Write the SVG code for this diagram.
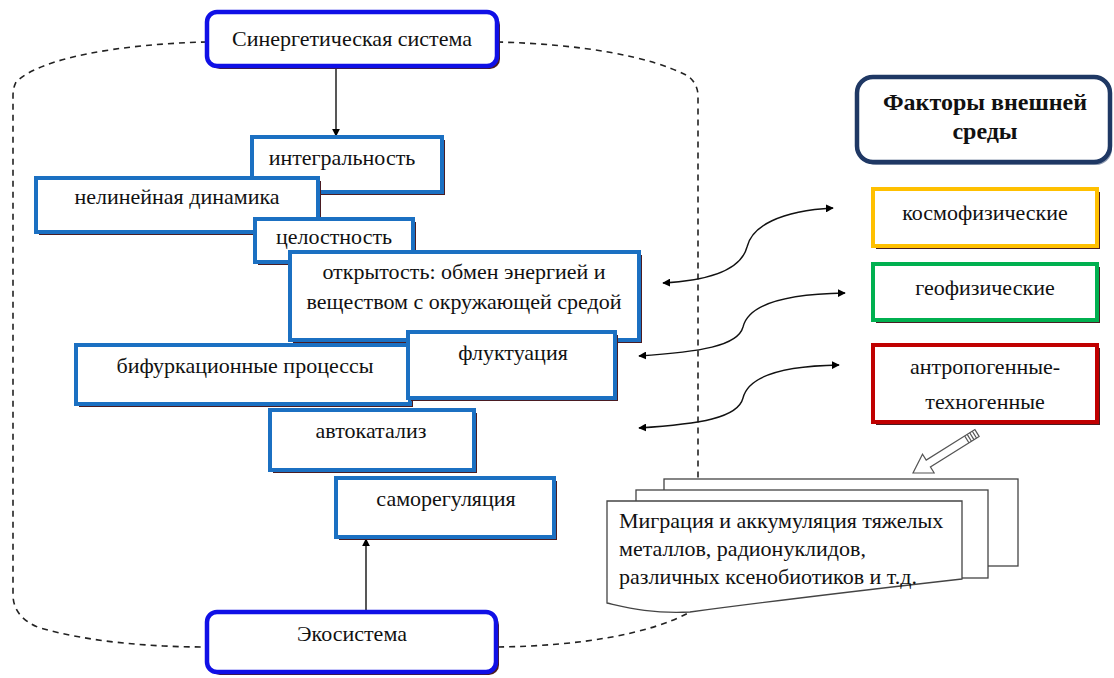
<svg xmlns="http://www.w3.org/2000/svg" width="1114" height="678" viewBox="0 0 1114 678" font-family="'Liberation Serif', 'DejaVu Serif', serif">
<defs>
<marker id="ah" viewBox="0 0 10 10" refX="9" refY="5" markerWidth="8" markerHeight="8" markerUnits="userSpaceOnUse" orient="auto-start-reverse">
<path d="M0,0 L10,5 L0,10 Z" fill="#000"/>
</marker>
<style>
text{font-family:'Liberation Serif','DejaVu Serif',serif;font-size:22px;fill:#111;}
.c{text-anchor:middle;}
.b{font-weight:bold;font-size:24px;}
.sh{fill:#4a1c22;}
.bl{fill:#fff;stroke:#1b70c2;stroke-width:4;}
.rb{fill:#fff;stroke:#1010e6;stroke-width:4.5;}
.dash{fill:none;stroke:#222;stroke-width:1.6;stroke-dasharray:6,5;}
.ln{fill:none;stroke:#111;stroke-width:1.4;}
.doc{fill:#fff;stroke:#444;stroke-width:1.3;}
</style>
</defs>
<rect width="1114" height="678" fill="#fff"/>

<g id="boundary">
<path class="dash" d="M207,42 C120,44 40,58 16,82 Q13,88 13,96 L13,596 Q14,618 40,628 C90,642 150,647 207,647"/>
<path class="dash" d="M497,42 C580,44 650,56 688,76 Q698,84 698,96 L698,479"/>
<path class="dash" d="M498,647 C580,646 650,634 690,612"/>
</g>

<g id="connectors">
<line class="ln" x1="336" y1="67" x2="336" y2="136" marker-end="url(#ah)"/>
<line class="ln" x1="366" y1="611" x2="366" y2="539" marker-end="url(#ah)"/>
<path class="ln" d="M663,283 C720,280 742,266 747,247 C752,226 780,211 833,208" marker-start="url(#ah)" marker-end="url(#ah)"/>
<path class="ln" d="M639,356 C700,352 738,346 743,327 C748,306 780,294 845,293" marker-start="url(#ah)" marker-end="url(#ah)"/>
<path class="ln" d="M639,428 C700,424 738,418 743,398 C748,377 780,366 839,365" marker-start="url(#ah)" marker-end="url(#ah)"/>
<g id="hollow-arrow" fill="#fff" stroke="#555" stroke-width="1.2">
<polygon points="979.1,436.4 930.4,466.9 934.1,472.8 913,473 922.5,454.2 926.2,460.1 974.9,429.6"/>
<line x1="976.5" y1="438.0" x2="972.3" y2="431.2"/>
<line x1="973.9" y1="439.6" x2="969.7" y2="432.8"/>
<line x1="971.4" y1="441.2" x2="967.2" y2="434.4"/>
<line x1="968.9" y1="442.8" x2="964.7" y2="436.0"/>
</g>
</g>

<g id="n-synergy">
<rect x="210" y="15" width="290" height="54" rx="10" class="sh"/>
<rect x="207" y="12" width="290" height="54" rx="10" class="rb"/>
<text x="352" y="46" class="c">Синергетическая система</text>
</g>

<g id="n-integral">
<rect x="255" y="140" width="190" height="55" class="sh"/>
<rect x="252" y="137" width="190" height="55" class="bl"/>
<text x="342" y="165" class="c">интегральность</text>
</g>

<g id="n-nonlinear">
<rect x="39" y="181" width="282" height="54" class="sh"/>
<rect x="36" y="178" width="282" height="54" class="bl"/>
<text x="177" y="204" class="c">нелинейная динамика</text>
</g>

<g id="n-integrity">
<rect x="258" y="222" width="158" height="43" class="sh"/>
<rect x="255" y="219" width="158" height="43" class="bl"/>
<text x="334" y="244" class="c">целостность</text>
</g>

<g id="n-openness">
<rect x="293" y="255" width="349" height="88" class="sh"/>
<rect x="290" y="252" width="349" height="88" class="bl"/>
<text x="464" y="279" class="c">открытость: обмен энергией и</text>
<text x="464" y="309" class="c">веществом с окружающей средой</text>
</g>

<g id="n-bifurcation">
<rect x="79" y="348" width="334" height="59" class="sh"/>
<rect x="76" y="345" width="334" height="59" class="bl"/>
<text x="245" y="373" class="c">бифуркационные процессы</text>
</g>

<g id="n-fluctuation">
<rect x="411" y="335" width="207" height="66" class="sh"/>
<rect x="408" y="332" width="207" height="66" class="bl"/>
<text x="513" y="360" class="c">флуктуация</text>
</g>

<g id="n-autocatalysis">
<rect x="273" y="413" width="204" height="60" class="sh"/>
<rect x="270" y="410" width="204" height="60" class="bl"/>
<text x="371" y="438" class="c">автокатализ</text>
</g>

<g id="n-selfreg">
<rect x="339" y="481" width="218" height="59" class="sh"/>
<rect x="336" y="478" width="218" height="59" class="bl"/>
<text x="446" y="506" class="c">саморегуляция</text>
</g>

<g id="n-ecosystem">
<rect x="210" y="615" width="289" height="60" rx="10" class="sh"/>
<rect x="207" y="612" width="289" height="60" rx="10" class="rb"/>
<text x="352" y="641" class="c">Экосистема</text>
</g>

<g id="n-factors">
<rect x="860" y="80" width="252" height="85" rx="16" fill="#1f3864" opacity="0.5"/>
<rect x="857" y="77" width="253" height="85" rx="16" fill="#fff" stroke="#1f3864" stroke-width="4.5"/>
<text x="985" y="110" class="c b">Факторы внешней</text>
<text x="985" y="139" class="c b">среды</text>
</g>

<g id="n-cosmo">
<rect x="876" y="192" width="224" height="57" class="sh"/>
<rect x="873" y="189" width="224" height="57" fill="#fff" stroke="#ffc000" stroke-width="4"/>
<text x="985" y="220" class="c">космофизические</text>
</g>

<g id="n-geo">
<rect x="876" y="267" width="224" height="56" class="sh"/>
<rect x="873" y="264" width="224" height="56" fill="#fff" stroke="#00b050" stroke-width="4"/>
<text x="985" y="295" class="c">геофизические</text>
</g>

<g id="n-anthro">
<rect x="876" y="348" width="224" height="77" class="sh"/>
<rect x="873" y="345" width="224" height="77" fill="#fff" stroke="#c00000" stroke-width="4"/>
<text x="985" y="374" class="c">антропогенные-</text>
<text x="985" y="409" class="c">техногенные</text>
</g>

<g id="n-migration">
<rect x="664" y="479" width="354" height="87" class="doc"/>
<rect x="636" y="490" width="352" height="88" class="doc"/>
<path class="doc" d="M607,501 H962 V579 C900,586 780,600 690,612 C650,614 625,607 607,603 Z"/>
<text x="619" y="528">Миграция и аккумуляция тяжелых</text>
<text x="619" y="556">металлов, радионуклидов,</text>
<text x="619" y="584">различных ксенобиотиков и т.д.</text>
</g>
</svg>
